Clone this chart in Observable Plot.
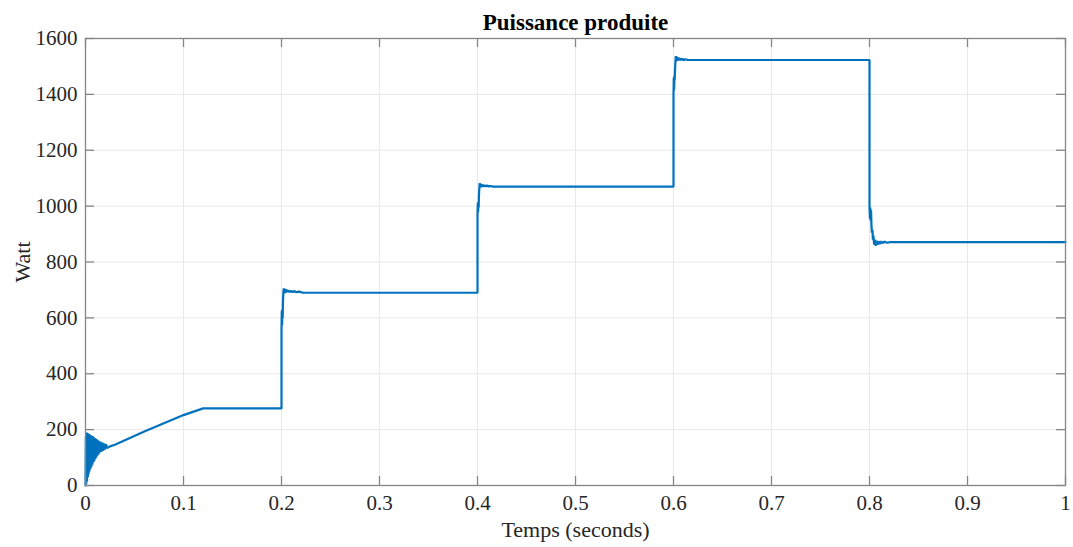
<!DOCTYPE html>
<html>
<head>
<meta charset="utf-8">
<script src="https://cdn.jsdelivr.net/npm/d3@7"></script>
<script src="https://cdn.jsdelivr.net/npm/@observablehq/plot@0.6"></script>
<style>
  html, body { margin: 0; padding: 0; background: #ffffff; }
  #chart svg { display: block; }
</style>
</head>
<body>
<div id="chart"></div>
<script>
// ---- Data ----
const titleText = "Puissance produite";
const xLabelText = "Temps (seconds)";
const yLabelText = "Watt";

const xTicks = [0, 0.1, 0.2, 0.3, 0.4, 0.5, 0.6, 0.7, 0.8, 0.9, 1];
const xTickLabels = ["0", "0.1", "0.2", "0.3", "0.4", "0.5", "0.6", "0.7", "0.8", "0.9", "1"];
const yTicks = [0, 200, 400, 600, 800, 1000, 1200, 1400, 1600];
const yTickLabels = ["0", "200", "400", "600", "800", "1000", "1200", "1400", "1600"];

// start-up oscillation, ramp and first plateau
const startTimes = [0, 0.0004, 0.0008, 0.0012, 0.0016, 0.002, 0.0024, 0.0028, 0.0032, 0.0036,
  0.004, 0.0045, 0.005, 0.0055, 0.006, 0.0065, 0.007, 0.0075, 0.008, 0.0085,
  0.009, 0.0095, 0.010, 0.0105, 0.011, 0.0115, 0.012, 0.0125, 0.013, 0.0135,
  0.014, 0.015, 0.016, 0.017, 0.018, 0.019, 0.020, 0.021, 0.022, 0.025,
  0.03, 0.06, 0.1, 0.12, 0.2];
const startWatts = [0, 175, 5, 190, 15, 188, 30, 186, 40, 184,
  50, 182, 58, 180, 66, 178, 74, 176, 82, 173,
  88, 170, 95, 167, 100, 165, 106, 162, 110, 160,
  115, 157, 120, 154, 124, 151, 129, 148, 134, 140,
  146, 193, 252, 276, 276];

// step at 0.2 s
const step1Times = [0.2, 0.2003, 0.2006, 0.2009, 0.2012, 0.2015, 0.2019, 0.2023, 0.2027, 0.2031,
  0.2035, 0.204, 0.2045, 0.205, 0.2057, 0.2064, 0.2072, 0.208, 0.209, 0.21,
  0.2115, 0.213, 0.215, 0.218, 0.222, 0.4];
const step1Watts = [560, 625, 575, 630, 600, 660, 690, 706, 688, 705,
  690, 703, 691, 701, 692, 699, 692, 698, 692, 697,
  692, 696, 692, 694, 690, 690];

// step at 0.4 s
const step2Times = [0.4, 0.4003, 0.4006, 0.4009, 0.4012, 0.4015, 0.4019, 0.4023, 0.4027, 0.4031,
  0.4035, 0.404, 0.4045, 0.405, 0.4057, 0.4064, 0.4072, 0.408, 0.409, 0.41,
  0.4115, 0.413, 0.416, 0.6];
const step2Watts = [970, 1012, 978, 1015, 995, 1040, 1068, 1082, 1066, 1080,
  1068, 1078, 1069, 1077, 1069, 1076, 1070, 1075, 1070, 1074,
  1070, 1072, 1070, 1070];

// step at 0.6 s
const step3Times = [0.6, 0.6003, 0.6006, 0.6009, 0.6012, 0.6016, 0.602, 0.6024, 0.6028, 0.6032,
  0.6037, 0.6042, 0.6048, 0.6055, 0.6062, 0.607, 0.608, 0.609, 0.6105, 0.612,
  0.6145, 0.617, 0.8];
const step3Watts = [1400, 1460, 1415, 1465, 1450, 1490, 1520, 1537, 1518, 1535,
  1520, 1533, 1521, 1531, 1522, 1529, 1522, 1528, 1522, 1526,
  1523, 1523, 1523];

// drop at 0.8 s
const step4Times = [0.8, 0.8004, 0.8008, 0.8012, 0.8016, 0.802, 0.8025, 0.803, 0.8035, 0.804,
  0.8047, 0.8055, 0.8063, 0.8072, 0.8082, 0.8093, 0.8105, 0.812, 0.8135, 0.815,
  0.818, 0.821, 1];
const step4Watts = [1000, 955, 995, 948, 985, 930, 905, 915, 880, 895,
  862, 880, 858, 876, 862, 874, 865, 874, 867, 873,
  869, 871, 871];

// ---- Build table ----
const allTimes = [].concat(startTimes, step1Times, step2Times, step3Times, step4Times);
const allWatts = [].concat(startWatts, step1Watts, step2Watts, step3Watts, step4Watts);
const series = allTimes.map((t, i) => ({t, w: allWatts[i]}));

// ---- Layout ----
const W = 1073, H = 547;
const mL = 85, mR = 8, mT = 38, mB = 62;
const plotW = W - mL - mR, plotH = H - mT - mB;
const tickPx = 9;
const xDom = [0, 1], yDom = [0, 1600];
const tickLenX = tickPx / plotW * (xDom[1] - xDom[0]);
const tickLenY = tickPx / plotH * (yDom[1] - yDom[0]);

const axisColor = "#858585";
const gridColor = "#e9e9e9";
const textColor = "#262626";
const lineColor = "#0072BD";

const chart = Plot.plot({
  width: W,
  height: H,
  marginLeft: mL,
  marginRight: mR,
  marginTop: mT,
  marginBottom: mB,
  style: {fontFamily: "'Liberation Serif', 'Times New Roman', serif", fontSize: "21px", color: textColor, background: "#ffffff"},
  x: {domain: xDom, label: null},
  y: {domain: yDom, label: null},
  marks: [
    Plot.gridX(xTicks, {stroke: gridColor, strokeOpacity: 1}),
    Plot.gridY(yTicks, {stroke: gridColor, strokeOpacity: 1}),
    Plot.line(series, {x: "t", y: "w", stroke: lineColor, strokeWidth: 2.2, strokeLinejoin: "miter"}),
    Plot.frame({stroke: axisColor, strokeWidth: 1.3}),
    // inward ticks on all four sides (MATLAB box style)
    Plot.ruleX(xTicks, {x: d => d, y1: yDom[0], y2: yDom[0] + tickLenY, stroke: axisColor, strokeWidth: 1.3}),
    Plot.ruleX(xTicks, {x: d => d, y1: yDom[1], y2: yDom[1] - tickLenY, stroke: axisColor, strokeWidth: 1.3}),
    Plot.ruleY(yTicks, {y: d => d, x1: xDom[0], x2: xDom[0] + tickLenX, stroke: axisColor, strokeWidth: 1.3}),
    Plot.ruleY(yTicks, {y: d => d, x1: xDom[1], x2: xDom[1] - tickLenX, stroke: axisColor, strokeWidth: 1.3}),
    Plot.axisX(xTicks, {tickSize: 0, tickPadding: 10, fontSize: 21, fill: textColor,
      tickFormat: d => xTickLabels[xTicks.indexOf(d)], label: null}),
    Plot.axisY(yTicks, {tickSize: 0, tickPadding: 8, fontSize: 21, fill: textColor,
      tickFormat: d => yTickLabels[yTicks.indexOf(d)], label: null}),
    Plot.text([titleText], {frameAnchor: "top", lineAnchor: "middle", textAnchor: "middle", dy: -16,
      fontWeight: "bold", fontSize: 23, fill: "#000"}),
    Plot.text([xLabelText], {frameAnchor: "bottom", lineAnchor: "middle", textAnchor: "middle", dy: 44,
      fontSize: 22, fill: textColor}),
    Plot.text([yLabelText], {frameAnchor: "left", lineAnchor: "middle", textAnchor: "middle", dx: -63,
      rotate: -90, fontSize: 22, fill: textColor})
  ]
});

document.getElementById("chart").appendChild(chart);
</script>
</body>
</html>
